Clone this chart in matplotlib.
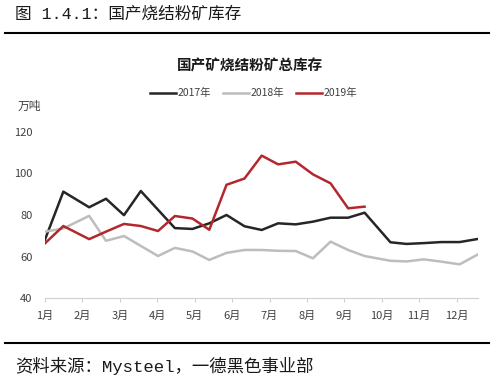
import numpy as np
import matplotlib
matplotlib.use('Agg')
import matplotlib.pyplot as plt

plt.rcParams['font.family'] = ['Noto Sans CJK SC', 'DejaVu Sans']

# x positions in months (1 = 1月)
x_2017 = [1.00, 1.49, 2.18, 2.63, 3.11, 3.56, 4.47, 4.94, 5.39, 5.85, 6.33, 6.79,
          7.23, 7.70, 8.16, 8.63, 9.10, 9.54, 10.23, 10.66, 11.12, 11.59, 12.08, 12.57]
v_2017 = [68.2, 91.2, 83.7, 87.8, 79.9, 91.5, 73.7, 73.3, 76.0, 80.0, 74.6, 72.8,
          76.0, 75.5, 76.8, 78.7, 78.7, 81.1, 66.9, 66.1, 66.5, 67.0, 67.0, 68.5]

x_2018 = [1.00, 1.49, 2.18, 2.63, 3.11, 4.02, 4.47, 4.94, 5.39, 5.85, 6.33, 6.79,
          7.23, 7.70, 8.16, 8.63, 9.10, 9.54, 10.23, 10.66, 11.12, 11.59, 12.08, 12.57]
v_2018 = [72.0, 73.5, 79.6, 67.6, 69.9, 60.3, 64.2, 62.5, 58.4, 61.8, 63.2, 63.2,
          62.8, 62.7, 59.2, 67.2, 63.2, 60.3, 58.0, 57.7, 58.7, 57.6, 56.3, 61.1]

x_2019 = [1.00, 1.49, 2.18, 2.63, 3.11, 3.56, 4.02, 4.47, 4.94, 5.39, 5.85, 6.33,
          6.79, 7.23, 7.70, 8.16, 8.63, 9.10, 9.54]
v_2019 = [66.4, 74.7, 68.4, 72.0, 75.7, 74.7, 72.3, 79.5, 78.3, 72.9, 94.5, 97.5,
          108.5, 104.3, 105.6, 99.5, 95.2, 83.2, 84.0]

months = [f'{m}月' for m in range(1, 13)]
yticks = [40, 60, 80, 100, 120]

fig = plt.figure(figsize=(5, 3.8), dpi=100)
ax = fig.add_axes([0.09, 0.215, 0.866, 0.4385])

ax.plot(x_2017, v_2017, color='#262626', lw=1.8, label='2017年')
ax.plot(x_2018, v_2018, color='#bdbdbd', lw=1.8, label='2018年')
ax.plot(x_2019, v_2019, color='#b3282d', lw=1.8, label='2019年')

ax.set_xlim(1, 12.57)
ax.set_ylim(40, 120)
ax.set_xticks(range(1, 13))
ax.set_xticklabels(months)
ax.set_yticks(yticks)
ax.tick_params(axis='x', length=3, color='#d0d0d0', pad=6, labelsize=8, labelcolor='#404040')
ax.tick_params(axis='y', length=0, pad=9, labelsize=8, labelcolor='#404040')
for s in ['top', 'right', 'left']:
    ax.spines[s].set_visible(False)
ax.spines['bottom'].set_color('#d0d0d0')

ax.legend(loc='center', bbox_to_anchor=(0.507, 0.7545), bbox_transform=fig.transFigure,
          ncol=3, frameon=False, fontsize=7.5, handlelength=2.5, handletextpad=0.1,
          columnspacing=1.2, labelcolor='#404040')

fig.text(0.5, 1 - 65 / 380, '国产矿烧结粉矿总库存', ha='center', va='center',
         fontsize=10.5, fontweight='heavy', color='#1a1a1a')
fig.text(0.036, 1 - 106.7 / 380, '万吨', ha='left', va='center', fontsize=8.5, color='#404040')

# header / footer
hf = ['Liberation Mono', 'Noto Sans CJK SC']
fig.text(0.03, 1 - 14 / 380, '图 1.4.1：国产烧结粉矿库存', ha='left', va='center',
         fontsize=12, family=hf, color='#1a1a1a')
fig.add_artist(plt.Line2D([0.01, 0.977], [1 - 33 / 380] * 2, color='black', lw=1.5))
fig.add_artist(plt.Line2D([0.01, 0.977], [1 - 343 / 380] * 2, color='black', lw=1.5))
fig.text(0.03, 1 - 366 / 380, '资料来源：Mysteel，一德黑色事业部', ha='left', va='center',
         fontsize=12.5, family=hf, color='#1a1a1a')

fig.savefig('out.png', dpi=100)
